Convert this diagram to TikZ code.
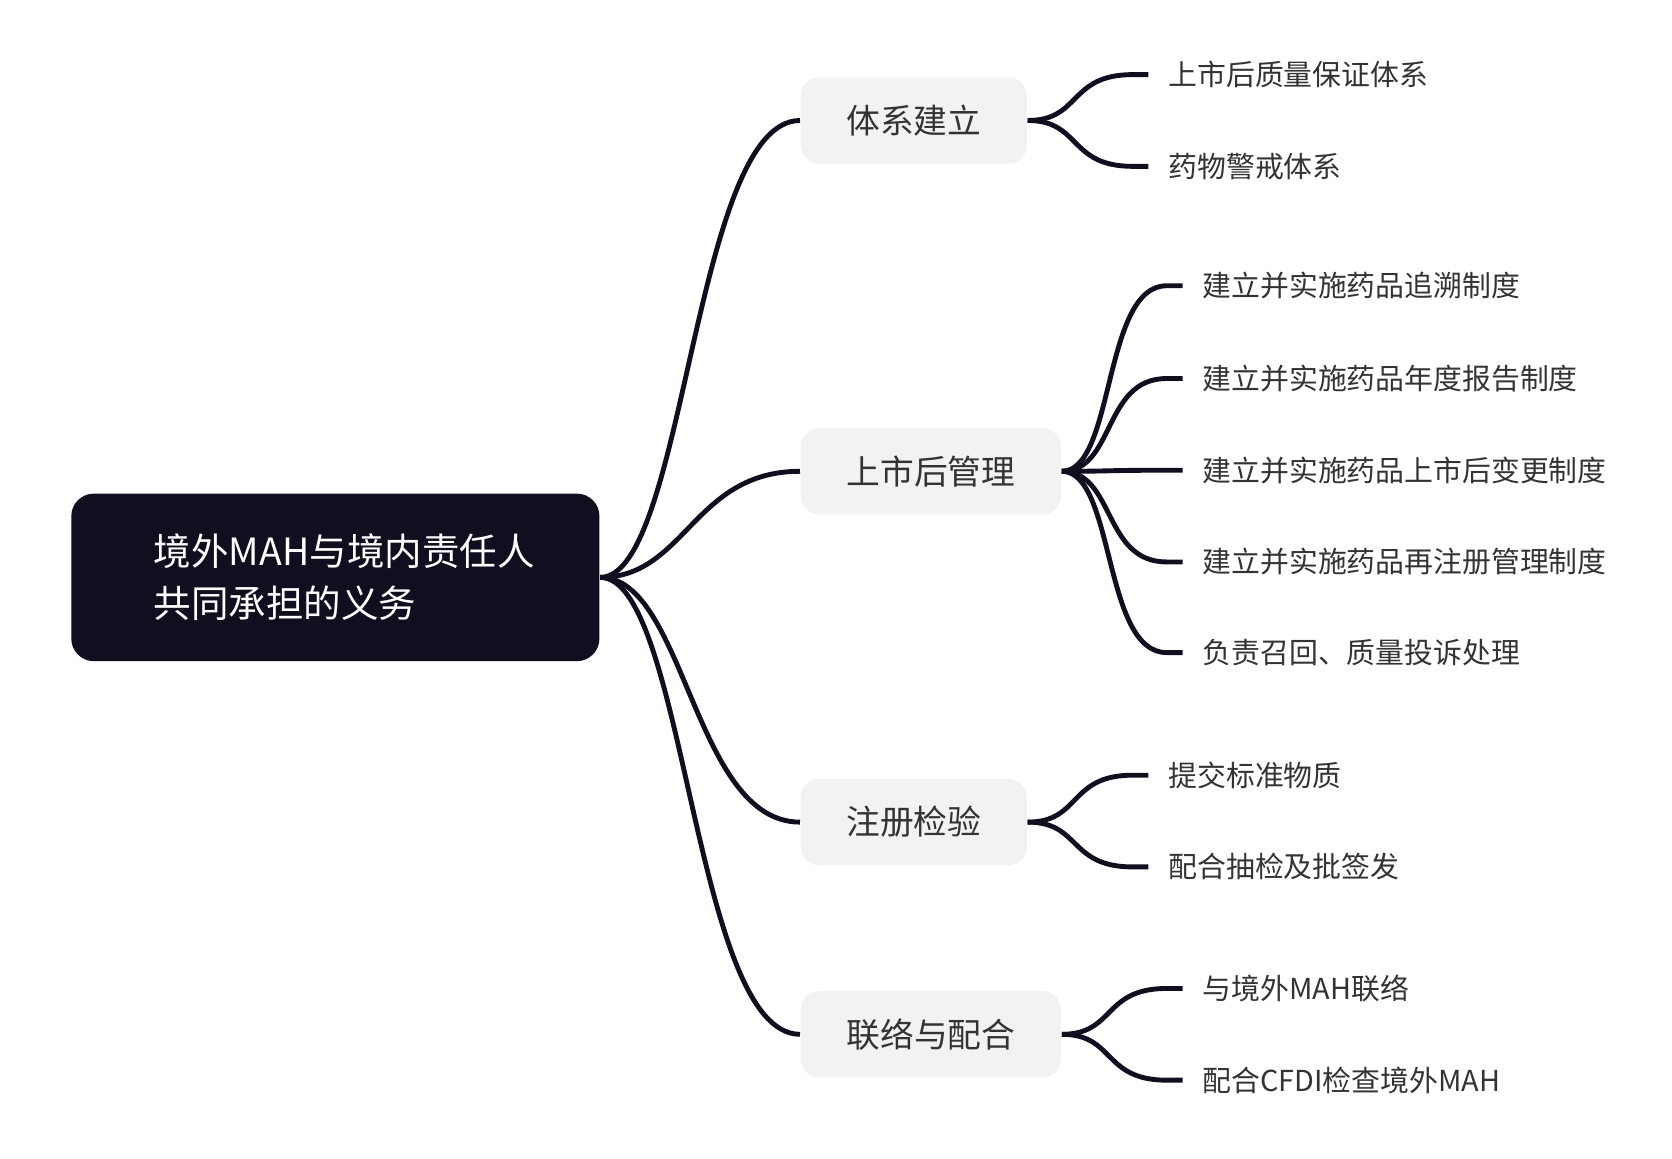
\documentclass[tikz,border=0pt]{standalone}
\usepackage{fontspec}
\setmainfont{Noto Sans CJK SC}
\usetikzlibrary{positioning}
\definecolor{rootc}{HTML}{120D1F}
\definecolor{boxc}{HTML}{F2F2F2}
\begin{document}
\begin{tikzpicture}[x=0.01cm,y=-0.01cm,
      rootbox/.style={rectangle, rounded corners=6pt, fill=rootc, text=white, minimum width=4.95cm, minimum height=1.57cm, font=\fontsize{10}{14}\selectfont, align=left, text width=3.4cm},
      branch/.style={rectangle, rounded corners=5pt, fill=boxc, minimum height=0.81cm, font=\fontsize{9}{11}\selectfont, text=black!80},
      leaf/.style={anchor=west, inner xsep=0.18cm, font=\fontsize{7.7}{10}\selectfont, text=black!80},
      link/.style={draw=rootc, line width=1.3pt}]
  \useasboundingbox (0,0) rectangle (1568,1086);

  % Root
  \node[rootbox] (root) at (314.5,541.5) {境外MAH与境内责任人\\共同承担的义务};

  % Branches
  \node[branch, minimum width=2.12cm] (sys) at (857,113) {体系建立};
  \node[branch, minimum width=2.44cm] (post) at (873,442) {上市后管理};
  \node[branch, minimum width=2.12cm] (reg) at (857,771) {注册检验};
  \node[branch, minimum width=2.44cm] (liai) at (873,970) {联络与配合};

  % Leaves
  \node[leaf] (s1) at (1077,70) {上市后质量保证体系};
  \node[leaf] (s2) at (1077,156) {药物警戒体系};
  \node[leaf] (p1) at (1109,268) {建立并实施药品追溯制度};
  \node[leaf] (p2) at (1109,355) {建立并实施药品年度报告制度};
  \node[leaf] (p3) at (1109,441) {建立并实施药品上市后变更制度};
  \node[leaf] (p4) at (1109,527) {建立并实施药品再注册管理制度};
  \node[leaf] (p5) at (1109,612) {负责召回、质量投诉处理};
  \node[leaf] (r1) at (1077,727) {提交标准物质};
  \node[leaf] (r2) at (1077,813) {配合抽检及批签发};
  \node[leaf] (l1) at (1109,927) {与境外MAH联络};
  \node[leaf] (l2) at (1109,1013) {配合CFDI检查境外MAH};

  % Root connectors
  \foreach \b in {sys, post, reg, liai}
    \draw[link] (root.east) .. controls +(80,0) and +(-100,0) .. (\b.west);

  % Leaf connectors
  \foreach \b/\l in {sys/s1, sys/s2, post/p1, post/p2, post/p3, post/p4, post/p5, reg/r1, reg/r2, liai/l1, liai/l2}
    \draw[link] (\b.east) .. controls +(50,0) and +(-60,0) .. ([xshift=-0.15cm]\l.west) -- (\l.west);
\end{tikzpicture}
\end{document}
